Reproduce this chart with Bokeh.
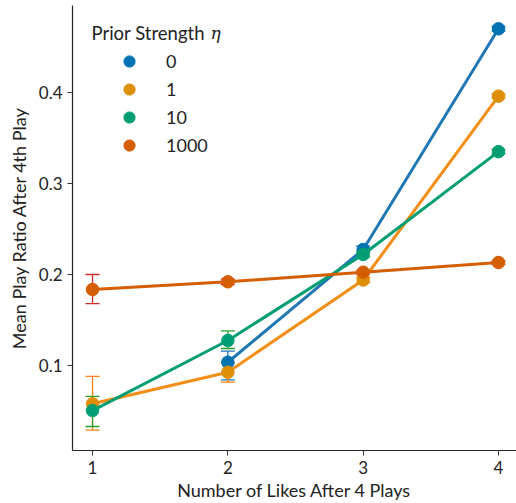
from bokeh.plotting import figure
from bokeh.models import ColumnDataSource, Whisker, TeeHead, Legend, LegendItem, Label, Range1d, FixedTicker
from bokeh.embed import file_html
from bokeh.resources import INLINE

nan = float("nan")
likes = [1, 2, 3, 4]
etas = ["0", "1", "10", "1000"]

mean_eta0 = [nan, 0.1036, 0.2275, 0.470]
lo_eta0 = [nan, 0.0843, 0.2235, 0.4675]
hi_eta0 = [nan, 0.1157, 0.2315, 0.4725]

mean_eta1 = [0.058, 0.0926, 0.194, 0.396]
lo_eta1 = [0.029, 0.0817, 0.191, 0.3935]
hi_eta1 = [0.088, 0.1025, 0.197, 0.3985]

mean_eta10 = [0.0505, 0.1275, 0.222, 0.335]
lo_eta10 = [0.033, 0.1187, 0.219, 0.3325]
hi_eta10 = [0.066, 0.138, 0.225, 0.3375]

mean_eta1000 = [0.1835, 0.192, 0.2025, 0.2132]
lo_eta1000 = [0.168, 0.189, 0.2005, 0.2115]
hi_eta1000 = [0.200, 0.195, 0.2045, 0.2149]

y_ticks = [0.1, 0.2, 0.3, 0.4]

series = [
    (mean_eta0, lo_eta0, hi_eta0),
    (mean_eta1, lo_eta1, hi_eta1),
    (mean_eta10, lo_eta10, hi_eta10),
    (mean_eta1000, lo_eta1000, hi_eta1000),
]
colors = ["#0173b2", "#de8f05", "#029e73", "#d55e00"]
line_colors = ["#1f77b4", "#f28e16", "#029e73", "#d55e00"]
err_colors = ["#1f77b4", "#ff7f0e", "#2ca02c", "#d62728"]

FONT = "Lato"

p = figure(width=516, height=503, output_backend="svg", toolbar_location=None,
           x_range=Range1d(0.852, 4.133), y_range=Range1d(0.0066, 0.4956),
           min_border_left=72, min_border_right=0, min_border_top=5, min_border_bottom=53)
p.frame_width = 444
p.frame_height = 445
p.outline_line_color = None
p.xgrid.visible = False
p.ygrid.visible = False
p.background_fill_color = "white"

p.xaxis.ticker = FixedTicker(ticks=likes)
p.yaxis.ticker = FixedTicker(ticks=y_ticks)
p.xaxis.axis_label = "Number of Likes After 4 Plays"
p.yaxis.axis_label = "Mean Play Ratio After 4th Play"
for ax in (p.xaxis, p.yaxis):
    ax.axis_label_text_font = FONT
    ax.axis_label_text_font_style = "normal"
    ax.axis_label_text_font_size = "18px"
    ax.axis_label_text_color = "#222222"
    ax.major_label_text_font = FONT
    ax.major_label_text_font_size = "17px"
    ax.major_label_text_color = "#222222"
    ax.minor_tick_line_color = None
    ax.major_tick_in = 0
    ax.major_tick_out = 5
    ax.major_tick_line_color = "#333333"
    ax.axis_line_color = "#222222"
    ax.axis_line_width = 1.2
p.xaxis.axis_label_standoff = 2
p.yaxis.axis_label_standoff = 6
p.xaxis.major_label_standoff = 5
p.yaxis.major_label_standoff = 5

legend_items = []
for (m, lo, hi), c, lc, ec, eta in zip(series, colors, line_colors, err_colors, etas):
    src = ColumnDataSource(dict(x=likes, y=m, lo=lo, hi=hi))
    w = Whisker(base="x", lower="lo", upper="hi", source=src, dimension="height",
                line_color=ec, line_width=1.3,
                upper_head=TeeHead(size=14, line_color=ec, line_width=1.3),
                lower_head=TeeHead(size=14, line_color=ec, line_width=1.3))
    p.add_layout(w)
    p.line("x", "y", source=src, line_color=lc, line_width=3)
    r = p.scatter("x", "y", source=src, size=12.5, fill_color=c, line_color=c)
    legend_items.append(LegendItem(label=eta, renderers=[r]))

legend = Legend(items=legend_items, location=(43, 291), background_fill_alpha=0,
                border_line_color=None, label_text_font=FONT, label_text_font_size="18px",
                label_text_color="#222222", glyph_width=28, glyph_height=28,
                label_standoff=23, spacing=0, padding=0, margin=0, label_height=28)
p.add_layout(legend)

title = Label(x=19, y=418, x_units="screen", y_units="screen", text="Prior Strength",
              text_font=FONT, text_font_size="18.5px", text_color="#222222",
              text_baseline="alphabetic")
p.add_layout(title)
title_eta = Label(x=138, y=418, x_units="screen", y_units="screen", text="η",
                  text_font="DejaVu Serif", text_font_style="italic", text_font_size="17px",
                  text_color="#222222", text_baseline="alphabetic")
p.add_layout(title_eta)

open("out.html", "w").write(file_html(p, INLINE))
